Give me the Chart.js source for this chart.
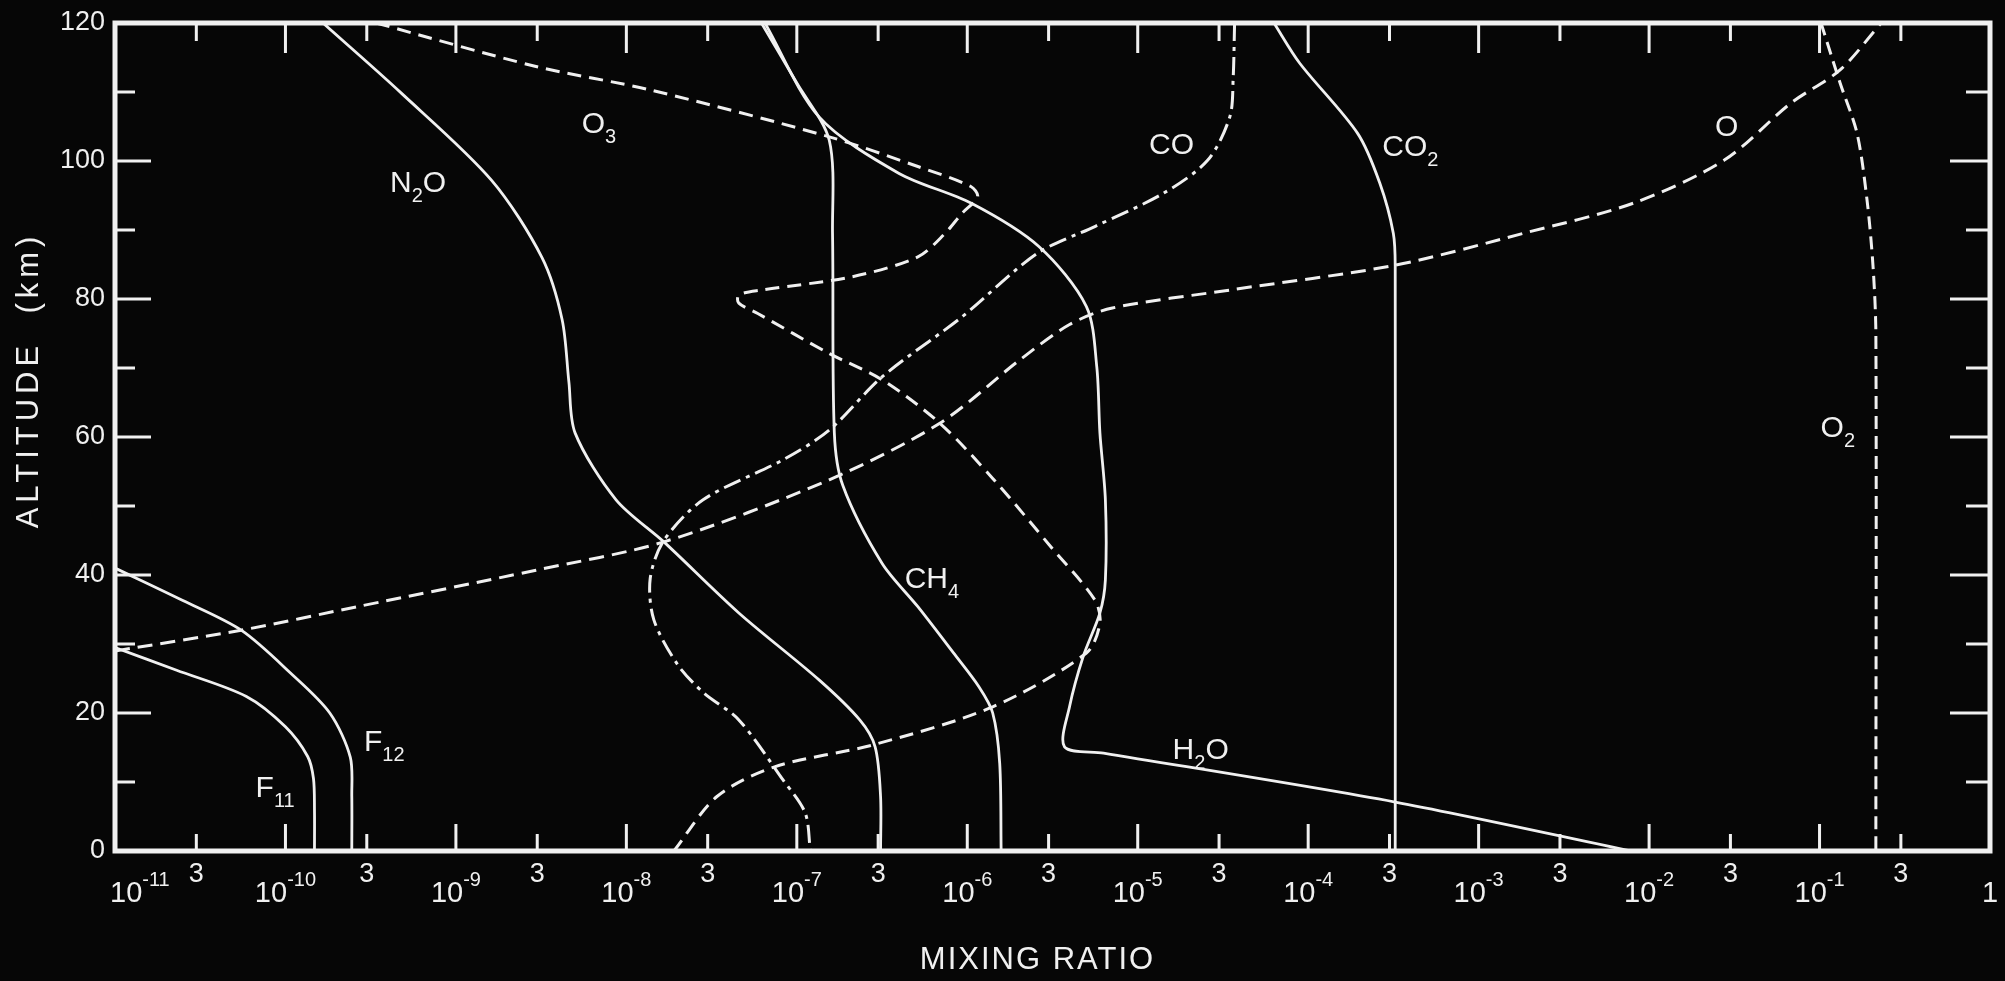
<!DOCTYPE html>
<html>
<head>
<meta charset="utf-8">
<title>Mixing ratio profiles</title>
<script src="https://cdn.jsdelivr.net/npm/chart.js@4.4.1/dist/chart.umd.min.js"></script>
<style>
  html, body { margin: 0; padding: 0; background: #060606; }
  canvas { display: block; }
</style>
</head>
<body>
<canvas id="mixingChart" width="2005" height="981"></canvas>
<script>
// profiles: [mixing ratio, altitude (km)]
var F11 = [[1e-11, 29.5], [2.3e-11, 26.2], [5.9e-11, 22.4], [1.0e-10, 18], [1.35e-10, 13.7], [1.46e-10, 10.5], [1.48e-10, 6], [1.48e-10, 0]];
var F12 = [[1e-11, 41], [2.5e-11, 36.3], [5.5e-11, 32], [1.07e-10, 25.8], [1.82e-10, 20], [2.4e-10, 13.6], [2.45e-10, 8], [2.45e-10, 0]];
var N2O = [[1.66e-10, 120], [4.8e-10, 109.8], [1.62e-9, 97.2], [3.2e-9, 86], [4.2e-9, 77], [4.6e-9, 68], [5.0e-9, 60.6], [8.7e-9, 50.9], [1.66e-8, 44.8], [4.57e-8, 34.5], [1.35e-7, 24.8], [2.34e-7, 19], [2.88e-7, 15.1], [3.1e-7, 7.9], [3.1e-7, 0]];
var CH4 = [[6.2e-8, 120], [1.0e-7, 111.3], [1.55e-7, 103], [1.62e-7, 89.5], [1.66e-7, 60.6], [1.86e-7, 53], [3.16e-7, 41.7], [5.13e-7, 35.4], [8.3e-7, 28.7], [1.17e-6, 23.8], [1.41e-6, 20], [1.55e-6, 12.7], [1.58e-6, 0]];
var H2O = [[6.5e-8, 120], [1.35e-7, 106.4], [3.98e-7, 98.2], [1.05e-6, 93.9], [2.63e-6, 87.6], [5.0e-6, 78.9], [5.75e-6, 70.2], [6.0e-6, 60.6], [6.46e-6, 50.9], [6.46e-6, 39.3], [6.0e-6, 34.5], [4.79e-6, 28.2], [3.98e-6, 20.9], [3.72e-6, 15.1], [6.3e-6, 14.2], [3.24e-4, 7.1], [7.9e-3, 0]];
var CO2 = [[6.3e-5, 120], [8.9e-5, 114.2], [1.95e-4, 104], [2.63e-4, 96.8], [3.16e-4, 89.5], [3.24e-4, 84.7], [3.24e-4, 0]];
var O2 = [[0.102, 120], [0.132, 111.3], [0.166, 104], [0.19, 94.3], [0.206, 84.7], [0.214, 75], [0.214, 0]];
var O = [[1e-11, 29], [5.5e-11, 32], [2.63e-10, 35.4], [2.95e-9, 40.7], [1.66e-8, 44.8], [1.55e-7, 53.8], [6.9e-7, 62], [2.04e-6, 71.2], [3.98e-6, 76.3], [7.1e-6, 78.7], [3.47e-5, 81.3], [3.24e-4, 84.9], [1.82e-3, 89.5], [8.1e-3, 93.9], [2.75e-2, 100.1], [6.8e-2, 108.4], [0.132, 113.2], [0.23, 120]];
var O3 = [[3.4e-10, 120], [2.95e-9, 113.7], [1.38e-8, 110.3], [1.55e-7, 103.5], [5.13e-7, 99.2], [1.05e-6, 96.3], [1.15e-6, 94.8], [9.3e-7, 92.4], [7.4e-7, 89.5], [5.13e-7, 86.1], [2.09e-7, 83.2], [6.2e-8, 81.3], [4.57e-8, 80.6], [4.57e-8, 79.4], [5.9e-8, 77.9], [1.55e-7, 72.1], [3.16e-7, 68.3], [6.9e-7, 62], [1.41e-6, 54], [3.09e-6, 44.1], [5.6e-6, 36.4], [6.0e-6, 33], [5.0e-6, 28.7], [1.41e-6, 20.9], [2.82e-7, 15.4], [7.4e-8, 12.2], [3.4e-8, 7.9], [1.9e-8, 0]];
var CO = [[3.7e-5, 120], [3.63e-5, 112], [3.47e-5, 106.4], [2.57e-5, 100.1], [1.41e-5, 95.3], [5.6e-6, 90.5], [2.57e-6, 86.6], [9.3e-7, 77.4], [3.16e-7, 68.7], [1.55e-7, 61], [8.3e-8, 56.7], [2.82e-8, 50.9], [1.66e-8, 45], [1.38e-8, 39.5], [1.45e-8, 33.5], [2.0e-8, 27], [2.82e-8, 23], [4.57e-8, 19], [8.3e-8, 10.3], [1.12e-7, 5.5], [1.2e-7, 0]];

// axis ticks
var xMajorTicks = [1e-11, 1e-10, 1e-9, 1e-8, 1e-7, 1e-6, 1e-5, 1e-4, 1e-3, 1e-2, 1e-1, 1];
var xMajorLabels = ['10^-11', '10^-10', '10^-9', '10^-8', '10^-7', '10^-6', '10^-5', '10^-4', '10^-3', '10^-2', '10^-1', '1'];
var xMinorTicks = [3e-11, 3e-10, 3e-9, 3e-8, 3e-7, 3e-6, 3e-5, 3e-4, 3e-3, 3e-2, 3e-1];
var xMinorLabel = '3';
var yMajorTicks = [0, 20, 40, 60, 80, 100, 120];
var yMinorTicks = [10, 30, 50, 70, 90, 110];

// curve labels (_ = subscript)
var labelText = ['N_2O', 'O_3', 'CO', 'CO_2', 'O', 'O_2', 'CH_4', 'H_2O', 'F_12', 'F_11'];
var labelRatio = [6.0e-10, 6.9e-9, 1.58e-5, 3.98e-4, 2.85e-2, 0.128, 6.2e-7, 2.34e-5, 3.8e-10, 8.7e-11];
var labelAlt = [97.1, 105.6, 102.6, 102.3, 105.2, 61.6, 39.7, 14.9, 16.1, 9.4];

var INK = '#f0f0f0';
var FONT = '"Liberation Sans", Arial, sans-serif';

function toPoints(arr) {
    return arr.map(function (p) { return { x: p[0], y: p[1] }; });
}

function profile(data, dash, width) {
    return {
        data: toPoints(data),
        showLine: true,
        borderColor: INK,
        borderWidth: width || 2.8,
        borderDash: dash || [],
        pointRadius: 0,
        tension: 0.3,
        fill: false
    };
}

// text with _sub and ^sup runs
function drawRich(ctx, str, x, y, size, align) {
    var runs = [], buf = '', i = 0;
    while (i < str.length) {
        var c = str[i];
        if (c === '_' || c === '^') {
            if (buf) runs.push({ t: buf, k: 'n' });
            buf = '';
            var part = '', j = i + 1;
            if (c === '^') { part = str.slice(j); j = str.length; }
            else { while (j < str.length && /[0-9]/.test(str[j])) part += str[j++]; }
            runs.push({ t: part, k: c === '^' ? 'sup' : 'sub' });
            i = j;
            continue;
        }
        buf += c;
        i++;
    }
    if (buf) runs.push({ t: buf, k: 'n' });

    var small = Math.round(size * 0.68);
    var total = 0;
    runs.forEach(function (r) {
        ctx.font = (r.k === 'n' ? size : small) + 'px ' + FONT;
        r.w = ctx.measureText(r.t).width;
        total += r.w;
    });
    var cx = align === 'left' ? x : align === 'right' ? x - total : x - total / 2;
    ctx.textAlign = 'left';
    ctx.textBaseline = 'alphabetic';
    runs.forEach(function (r) {
        var dy = 0;
        ctx.font = (r.k === 'n' ? size : small) + 'px ' + FONT;
        if (r.k === 'sup') dy = -size * 0.55;
        if (r.k === 'sub') dy = size * 0.32;
        ctx.fillText(r.t, cx, y + dy);
        cx += r.w;
    });
}

var framePlugin = {
    id: 'frame',
    beforeDraw: function (chart) {
        var ctx = chart.ctx;
        ctx.save();
        ctx.fillStyle = '#060606';
        ctx.fillRect(0, 0, chart.width, chart.height);
        ctx.restore();
    },
    afterDraw: function (chart) {
        var ctx = chart.ctx, a = chart.chartArea;
        var xs = chart.scales.x, ys = chart.scales.y;
        ctx.save();
        ctx.strokeStyle = INK;
        ctx.fillStyle = INK;

        // ticks, all pointing inwards
        ctx.lineWidth = 3;
        ctx.beginPath();
        xMajorTicks.forEach(function (v) {
            var px = xs.getPixelForValue(v);
            if (px <= a.left + 2 || px >= a.right - 2) return;
            ctx.moveTo(px, a.bottom); ctx.lineTo(px, a.bottom - 27);
            ctx.moveTo(px, a.top); ctx.lineTo(px, a.top + 30);
        });
        xMinorTicks.forEach(function (v) {
            var px = xs.getPixelForValue(v);
            ctx.moveTo(px, a.bottom); ctx.lineTo(px, a.bottom - 17);
            ctx.moveTo(px, a.top); ctx.lineTo(px, a.top + 18);
        });
        yMajorTicks.forEach(function (v) {
            if (v === 0 || v === 120) return;
            var py = ys.getPixelForValue(v);
            ctx.moveTo(a.left, py); ctx.lineTo(a.left + 36, py);
            ctx.moveTo(a.right, py); ctx.lineTo(a.right - 40, py);
        });
        yMinorTicks.forEach(function (v) {
            var py = ys.getPixelForValue(v);
            ctx.moveTo(a.left, py); ctx.lineTo(a.left + 20, py);
            ctx.moveTo(a.right, py); ctx.lineTo(a.right - 24, py);
        });
        ctx.stroke();

        // frame
        ctx.lineWidth = 5;
        ctx.strokeRect(a.left, a.top, a.right - a.left, a.bottom - a.top);

        // x tick labels
        xMajorTicks.forEach(function (v, i) {
            var px = xs.getPixelForValue(v);
            var align = i === 0 ? 'left' : 'center';
            drawRich(ctx, xMajorLabels[i], i === 0 ? px - 5 : px, a.bottom + 51, 29, align);
        });
        ctx.font = '27px ' + FONT;
        ctx.textAlign = 'center';
        ctx.textBaseline = 'alphabetic';
        xMinorTicks.forEach(function (v) {
            ctx.fillText(xMinorLabel, xs.getPixelForValue(v), a.bottom + 31);
        });

        // y tick labels
        ctx.font = '27px ' + FONT;
        ctx.textAlign = 'right';
        ctx.textBaseline = 'middle';
        yMajorTicks.forEach(function (v) {
            ctx.fillText(String(v), a.left - 10, ys.getPixelForValue(v));
        });

        // curve labels
        labelText.forEach(function (t, i) {
            var px = xs.getPixelForValue(labelRatio[i]);
            var py = ys.getPixelForValue(labelAlt[i]);
            drawRich(ctx, t, px, py + 11, 30, 'center');
        });

        // axis titles
        ctx.font = '31px ' + FONT;
        ctx.textAlign = 'center';
        ctx.textBaseline = 'middle';
        ctx.letterSpacing = '2px';
        ctx.fillText('MIXING RATIO', (a.left + a.right) / 2 - 15, 960);
        ctx.translate(29, 380);
        ctx.rotate(-Math.PI / 2);
        ctx.letterSpacing = '5px';
        ctx.fillText('ALTITUDE  (km)', 0, 0);
        ctx.restore();
    }
};

var ctx = document.getElementById('mixingChart').getContext('2d');

new Chart(ctx, {
    type: 'scatter',
    data: {
        datasets: [
            profile(F11),
            profile(F12),
            profile(N2O),
            profile(CH4),
            profile(H2O),
            profile(CO2),
            profile(O2, [13, 7], 3),
            profile(O, [15, 8], 3),
            profile(O3, [14, 8], 3),
            profile(CO, [18, 6, 4, 6], 3)
        ]
    },
    options: {
        responsive: false,
        animation: false,
        events: [],
        layout: { padding: { left: 115, right: 15, top: 23, bottom: 130 } },
        scales: {
            x: { type: 'logarithmic', min: 1e-11, max: 1, display: false },
            y: { type: 'linear', min: 0, max: 120, display: false }
        },
        plugins: {
            legend: { display: false },
            tooltip: { enabled: false }
        }
    },
    plugins: [framePlugin]
});
</script>
</body>
</html>
